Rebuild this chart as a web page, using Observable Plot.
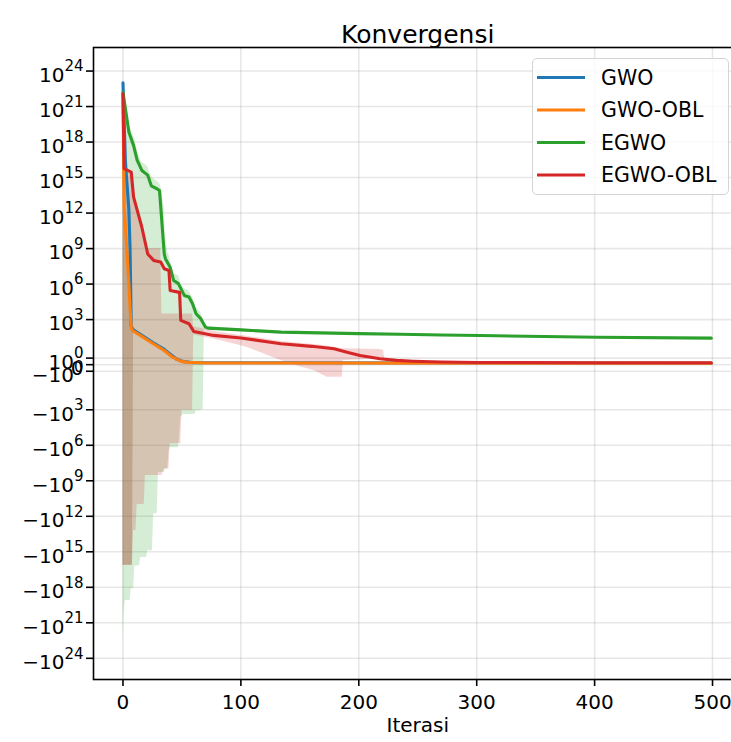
<!DOCTYPE html>
<html><head><meta charset="utf-8">
<script src="https://cdn.jsdelivr.net/npm/d3@7"></script>
<script src="https://cdn.jsdelivr.net/npm/@observablehq/plot@0.6"></script>
<style>
body{margin:0;background:#fff;}
#wrap{position:relative;width:731px;height:742px;overflow:hidden;font-family:"DejaVu Sans",sans-serif;}
#wrap svg.plot{max-width:none !important;}
#legend{position:absolute;left:532px;top:58px;width:197px;height:137px;box-sizing:border-box;border:1.4px solid #d4d4d4;border-radius:5px;background:rgba(255,255,255,0.8);}
</style></head><body><div id="wrap"></div>
<script>
// ---- data ----
const names = ["GWO", "GWO-OBL", "EGWO", "EGWO-OBL"];
const colors = ["#1f77b4", "#ff7f0e", "#2ca02c", "#d62728"];
const xTicks = [0, 100, 200, 300, 400, 500];
const yTicks = [1e24, 1e21, 1e18, 1e15, 1e12, 1e9, 1e6, 1e3, 1, 0, -1, -1e3, -1e6, -1e9, -1e12, -1e15, -1e18, -1e21, -1e24];

const gwoIter = [0, 2, 3, 5, 6, 7, 8, 15, 25, 35, 40, 45, 50, 60, 499];
const gwoVal  = [1e23, 3e16, 1e15, 2e12, 1e9, 300, 150, 55, 12, 3, 1.6, 0.9, 0.5, 0.3, 0.22];

const gwoOblIter = [0, 1, 2, 3, 4, 5, 6, 7, 8, 15, 20, 25, 30, 35, 42, 49, 55, 70, 499];
const gwoOblVal  = [1e22, 3e12, 1e11, 2e9, 5e7, 1e6, 1e4, 200, 120, 44, 21, 10, 5, 2.45, 1.14, 0.53, 0.35, 0.25, 0.22];

const egwoIter = [0, 5, 9, 12, 16, 21, 24, 29, 31, 35, 36, 40, 43, 47, 52, 56, 59, 62, 66, 70, 72, 100, 134, 200, 235, 270, 303, 402, 499];
const egwoVal  = [1.6e22, 7e18, 5e17, 3e16, 4e15, 1.6e15, 2e14, 1.1e14, 8e13, 3.6e8, 1.4e8, 2.7e7, 2e6, 1.1e6, 1.1e5, 8e4, 2.2e4, 3.1e3, 1.2e3, 230, 190, 135, 87, 65, 58, 50, 45, 32, 27];

const egwoOblIter = [0, 1, 7, 9, 16, 21, 26, 32, 35, 39, 40, 48, 49, 56, 60, 77, 100, 134, 160, 179, 190, 201, 218, 232, 246, 270, 300, 400, 499];
const egwoOblVal  = [1.2e22, 5.6e15, 2.9e15, 2.2e13, 6.3e10, 3.5e8, 1e8, 7.2e7, 2e7, 1.4e7, 2.9e5, 2e5, 850, 450, 100, 46, 28, 9, 5.5, 3.4, 1.9, 1.4, 0.9, 0.65, 0.53, 0.4, 0.33, 0.3, 0.3];

// shaded bands (lower / upper edge)
const gwoBandIter = [0, 2, 3, 5, 6, 7, 8, 9, 15, 25, 35, 45, 55, 70, 499];
const gwoBandLo   = [-1.4e16, -1.4e16, -1.4e16, -1.4e16, -1.4e16, -1.4e16, -1.4e16, 100, 40, 9, 2, 0.5, 0.3, 0.2, 0.18];
const gwoBandHi   = [2e23, 6e16, 2e15, 4e12, 2e9, 600, 250, 200, 70, 16, 4, 1.2, 0.5, 0.35, 0.26];

const gwoOblBandIter = [0, 1, 2, 3, 4, 5, 6, 7, 8, 9, 15, 25, 35, 49, 60, 70, 499];
const gwoOblBandLo   = [-1.4e16, -1.4e16, -1.4e16, -1.4e16, -1.4e16, -1.4e16, -1.4e16, -1.4e16, -1.4e16, 100, 38, 8, 2, 0.45, 0.22, 0.2, 0.18];
const gwoOblBandHi   = [2e22, 1e13, 3e11, 6e9, 1.5e8, 3e6, 3e4, 600, 250, 150, 55, 13, 3, 0.65, 0.35, 0.3, 0.26];

const egwoBandIter = [0, 1, 2, 5, 6, 7, 9, 10, 12, 14, 15, 16, 20, 21, 24, 25, 26, 29, 30, 31, 32, 35, 36, 38, 39, 40, 43, 47, 48, 49, 50, 51, 52, 56, 59, 61, 62, 66, 67, 68, 69, 70, 72, 100, 134, 200, 235, 270, 303, 402, 499];
const egwoBandLo   = [-3e22, -1e20, -1.3e19, -1.3e19, -1.3e19, -1.3e18, -1.3e18, -1.6e16, -1.6e16, -1.6e16, -3e15, -3e15, -3e15, -8e14, -8e14, -8e14, -6e11, -6e11, -2e8, -2e8, -2e8, -2e8, -1e8, -1e8, -3e6, -1.6e6, -1.6e6, -1.6e6, -2e5, -4e3, -4e3, -2.5e3, -2.5e3, -2.5e3, -2.5e3, -2.5e3, -1.2e3, -1.2e3, -1e3, -1e3, 150, 170, 150, 115, 78, 60, 53, 46, 41, 29, 25];
const egwoBandHi   = [4e22, 2e22, 1e21, 3e19, 2e19, 1e19, 3e18, 2e18, 2e17, 6e16, 3e16, 2e16, 1e16, 8e15, 1.2e15, 1e15, 8e14, 5e14, 4e14, 3e14, 2e14, 3e12, 1e10, 5e8, 3e8, 1e8, 8e6, 5e6, 3e6, 1e6, 8e5, 6e5, 4e5, 2.5e5, 8e4, 2e4, 1e4, 4e3, 2e3, 1e3, 600, 350, 250, 160, 95, 70, 63, 54, 48, 35, 29];

const egwoOblBandIter = [0, 1, 3, 7, 8, 9, 11, 12, 16, 18, 19, 21, 32, 33, 35, 39, 40, 49, 50, 59, 60, 80, 105, 134, 150, 162, 173, 186, 187, 200, 218, 221, 222];
const egwoOblBandLo   = [-1.4e16, -1.4e16, -1.4e16, -1.4e16, -1.4e16, -1.6e13, -1.6e13, -1e11, -1e11, -1e11, -3.6e8, -3.6e8, -3.6e8, -3.6e8, -1e8, -1e8, -7.6e5, -7.6e5, -1.1e3, -1.1e3, 50, 20, 4.7, 0.64, -0.3, -0.88, -1.9, -1.9, 0.64, 0.7, 0.9, 0.9, 0.75];
const egwoOblBandHi   = [1e22, 4e15, 3e15, 2e15, 1e14, 1.5e13, 2e12, 8e11, 5e10, 1e10, 5e9, 1e9, 1e9, 3e3, 3e3, 3e3, 3e3, 3e3, 3e3, 3e3, 250, 90, 40, 14, 10, 8, 6, 3.5, 3.5, 3.3, 3, 2.6, 0.75];

// ---- build tables ----
const lineSets = [[gwoIter, gwoVal], [gwoOblIter, gwoOblVal], [egwoIter, egwoVal], [egwoOblIter, egwoOblVal]];
const bandSets = [[gwoBandIter, gwoBandLo, gwoBandHi], [gwoOblBandIter, gwoOblBandLo, gwoOblBandHi], [egwoBandIter, egwoBandLo, egwoBandHi], [egwoOblBandIter, egwoOblBandLo, egwoOblBandHi]];
const lines = lineSets.map(([it, v]) => it.map((i, k) => ({i, v: v[k]})));
const bands = bandSets.map(([it, lo, hi]) => it.map((i, k) => ({i, lo: lo[k], hi: hi[k]})));

// matplotlib-style symlog (linthresh 2, linscale 1, base 10)
const LT = 2, LS = 1 / (1 - 1 / 10);
function symlog(v) {
  const a = Math.abs(v);
  return a <= LT ? v * LS : Math.sign(v) * LT * (LS + Math.log10(a / LT));
}
function fmt(v) {
  if (v === 0) return "0";
  const e = Math.round(Math.log10(Math.abs(v)));
  return (v < 0 ? "\u221210" : "10") + "^" + e;
}

const marks = [
  Plot.gridX(xTicks, {stroke: "#b0b0b0", strokeOpacity: 0.3, strokeWidth: 1.6}),
  Plot.gridY(yTicks, {stroke: "#b0b0b0", strokeOpacity: 0.3, strokeWidth: 1.6})
];
bands.forEach((b, k) => marks.push(Plot.areaY(b, {x: "i", y1: "lo", y2: "hi", fill: colors[k], fillOpacity: 0.2})));
lines.forEach((l, k) => marks.push(Plot.line(l, {x: "i", y: "v", stroke: colors[k], strokeWidth: 3.1})));
marks.push(
  Plot.frame({stroke: "black", strokeWidth: 1.6}),
  Plot.axisX(xTicks, {tickSize: 7, tickPadding: 8, strokeWidth: 1.6, label: null, tickFormat: d => String(d)}),
  Plot.axisY(yTicks, {tickSize: 7, strokeWidth: 1.6, fill: null, label: null}),
  Plot.axisY(yTicks, {tickSize: 0, tickPadding: 10, dy: 4.4, label: null, tickFormat: fmt}),
  Plot.text(["Iterasi"], {frameAnchor: "bottom", dy: 52, text: d => d, fontSize: 20}),
  Plot.text(["Konvergensi"], {frameAnchor: "top", dy: -22, text: d => d, fontSize: 25})
);

const plot = Plot.plot({
  className: "plot",
  width: 745, height: 742,
  marginTop: 47, marginBottom: 63, marginLeft: 93, marginRight: 3.5,
  style: {fontFamily: "DejaVu Sans", fontSize: "20px", color: "black", background: "transparent", overflow: "visible", maxWidth: "none"},
  x: {domain: [-25, 525]},
  y: {type: "linear", transform: symlog, domain: [-53.2, 53.6]},
  marks
});
plot.style.maxWidth = "none";
plot.style.width = "745px";
plot.style.height = "742px";

// superscripts for the y tick labels
plot.querySelectorAll('g[aria-label="y-axis tick label"] text').forEach(t => {
  const s = t.textContent;
  if (s.includes("^")) {
    const [base, exp] = s.split("^");
    t.textContent = base;
    const ts = document.createElementNS("http://www.w3.org/2000/svg", "tspan");
    ts.setAttribute("dy", "-10.5");
    ts.setAttribute("font-size", "15");
    ts.textContent = exp;
    t.appendChild(ts);
  }
});

const wrap = document.getElementById("wrap");
wrap.appendChild(plot);

// legend
const leg = document.createElement("div");
leg.id = "legend";
let svg = '<svg width="197" height="137" xmlns="http://www.w3.org/2000/svg" style="position:absolute;left:-1.4px;top:-1.4px">';
const rowY = [19.5, 52, 84.5, 117];
names.forEach((n, k) => {
  svg += `<line x1="5" x2="53" y1="${rowY[k]}" y2="${rowY[k]}" stroke="${colors[k]}" stroke-width="3.1"/>`;
  svg += `<text x="69" y="${rowY[k] + 7}" font-family="DejaVu Sans" font-size="20.5" fill="#000">${n}</text>`;
});
svg += '</svg>';
leg.innerHTML = svg;
wrap.appendChild(leg);
</script></body></html>
